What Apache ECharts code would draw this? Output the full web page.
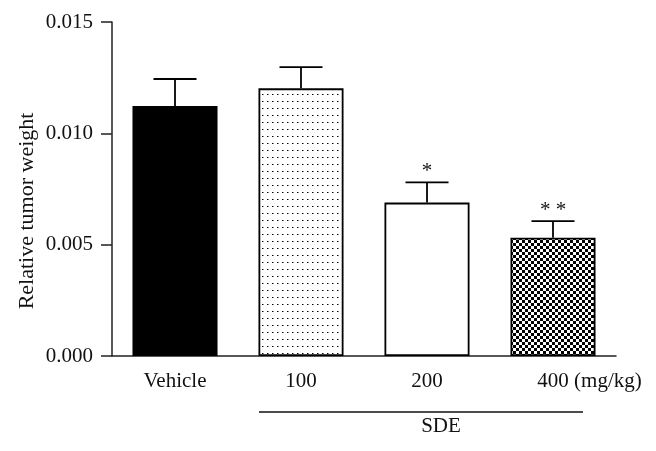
<!DOCTYPE html>
<html>
<head>
<meta charset="utf-8">
<script src="https://cdn.jsdelivr.net/npm/echarts@6/dist/echarts.min.js"></script>
<style>
  html, body { margin: 0; padding: 0; background: #fff; }
  #chart { width: 656px; height: 451px; }
</style>
</head>
<body>
<div id="chart"></div>
<script>
// ---- data ----
const categories = ['Vehicle', '100', '200', '400 (mg/kg)'];
const means = [0.01123, 0.01202, 0.00689, 0.00531];
const errors = [0.00121, 0.00095, 0.00091, 0.00075];
const marks = ['', '', '*', '* *'];
const yMin = 0, yMax = 0.015, yStep = 0.005;
const yTitle = 'Relative tumor weight';
const groupTitle = 'SDE';

// ---- patterns ----
function dotPattern() {
  const c = document.createElement('canvas');
  c.width = 5; c.height = 7;
  const g = c.getContext('2d');
  g.fillStyle = '#fff'; g.fillRect(0, 0, 5, 7);
  g.fillStyle = '#000'; g.fillRect(2, 3, 1, 1);
  g.fillStyle = '#888'; g.fillRect(3, 3, 1, 1);
  return c;
}
function checkPattern() {
  const c = document.createElement('canvas');
  c.width = 6; c.height = 6;
  const g = c.getContext('2d');
  g.fillStyle = '#fff'; g.fillRect(0, 0, 6, 6);
  g.fillStyle = '#000';
  g.fillRect(0, 0, 3, 3); g.fillRect(3, 3, 3, 3);
  return c;
}
const fills = [
  '#000',
  { image: dotPattern(), repeat: 'repeat' },
  '#fff',
  { image: checkPattern(), repeat: 'repeat' }
];

const FONT = 'Liberation Serif';
const chart = echarts.init(document.getElementById('chart'), null, { renderer: 'canvas' });

const option = {
  animation: false,
  backgroundColor: '#fff',
  grid: { left: 112, right: 40, top: 22, bottom: 95 },
  xAxis: {
    type: 'category',
    data: categories,
    axisLine: { lineStyle: { color: '#222', width: 1.5 } },
    axisTick: { alignWithLabel: true, length: 8, lineStyle: { color: '#222', width: 1.5 } },
    axisLabel: {
      interval: 0,
      color: '#111', fontFamily: FONT, fontSize: 21, margin: 15,
      formatter: function (v, i) { return i === 3 ? '{pad|}' + v : v; },
      rich: { pad: { width: 73 } }
    }
  },
  yAxis: {
    type: 'value',
    min: yMin, max: yMax, interval: yStep,
    splitLine: { show: false },
    axisLine: { show: true, lineStyle: { color: '#222', width: 1.5 } },
    axisTick: { show: true, length: 11, lineStyle: { color: '#222', width: 1.5 } },
    axisLabel: {
      color: '#111', fontFamily: FONT, fontSize: 21, margin: 19,
      formatter: function (v) { return v.toFixed(3); }
    }
  },
  series: [
    {
      type: 'bar',
      barWidth: '67.5%',
      data: means.map(function (m, i) {
        return { value: m, itemStyle: { color: fills[i], borderColor: '#000', borderWidth: 1.8 } };
      }),
      z: 2
    },
    {
      type: 'custom',
      data: means.map(function (m, i) { return [i, m, errors[i], marks[i]]; }),
      z: 3,
      renderItem: function (params, api) {
        const i = api.value(0);
        const m = api.value(1);
        const e = api.value(2);
        const star = marks[params.dataIndex];
        const p0 = api.coord([i, m]);
        const p1 = api.coord([i, m + e]);
        const half = 21.5;
        const style = { stroke: '#000', lineWidth: 1.8 };
        const children = [
          { type: 'line', shape: { x1: p0[0], y1: p0[1], x2: p1[0], y2: p1[1] }, style: style },
          { type: 'line', shape: { x1: p1[0] - half, y1: p1[1], x2: p1[0] + half, y2: p1[1] }, style: style }
        ];
        if (star) {
          children.push({
            type: 'text',
            x: p1[0], y: p1[1] - 11,
            style: { text: star, font: '21px ' + FONT, fill: '#111', align: 'center', verticalAlign: 'middle' }
          });
        }
        return { type: 'group', children: children };
      }
    }
  ],
  graphic: [
    {
      type: 'text', x: 27, y: 211, rotation: Math.PI / 2,
      style: { text: yTitle, font: '22px ' + FONT, fill: '#111', align: 'center', verticalAlign: 'middle' }
    },
    {
      type: 'line', shape: { x1: 259, y1: 412, x2: 583, y2: 412 },
      style: { stroke: '#111', lineWidth: 1.5 }
    },
    {
      type: 'text', x: 441, y: 426,
      style: { text: groupTitle, font: '21px ' + FONT, fill: '#111', align: 'center', verticalAlign: 'middle' }
    }
  ]
};
chart.setOption(option);
</script>
</body>
</html>
